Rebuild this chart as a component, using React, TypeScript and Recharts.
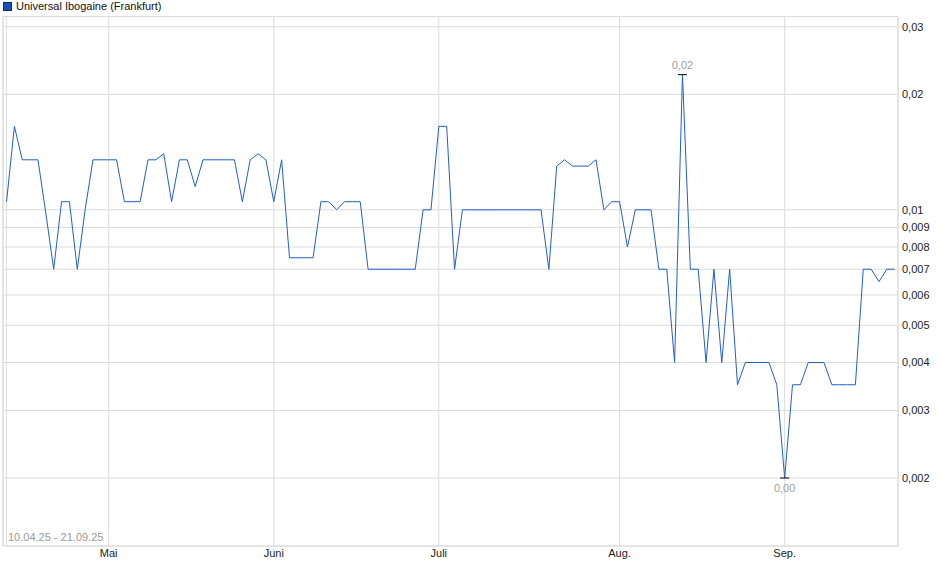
import React from 'react';
import {
    LineChart,
    Line,
    XAxis,
    YAxis,
    CartesianGrid,
    ReferenceArea,
    Legend,
} from 'recharts';

const seriesName = 'Universal Ibogaine (Frankfurt)';
const dateRange = '10.04.25 - 21.09.25';

// one close per Frankfurt trading day, 10.04.25 .. 19.09.25
const prices = [
    0.0105, 0.0165, 0.0135, 0.0135, 0.0135, 0.0098, 0.007, 0.0105, 0.0105, 0.007,
    0.01, 0.0135, 0.0135, 0.0135, 0.0135, 0.0105, 0.0105, 0.0105, 0.0135, 0.0135,
    0.014, 0.0105, 0.0135, 0.0135, 0.0115, 0.0135, 0.0135, 0.0135, 0.0135, 0.0135,
    0.0105, 0.0135, 0.014, 0.0135, 0.0105, 0.0135, 0.0075, 0.0075, 0.0075, 0.0075,
    0.0105, 0.0105, 0.01, 0.0105, 0.0105, 0.0105, 0.007, 0.007, 0.007, 0.007,
    0.007, 0.007, 0.007, 0.01, 0.01, 0.0165, 0.0165, 0.007, 0.01, 0.01,
    0.01, 0.01, 0.01, 0.01, 0.01, 0.01, 0.01, 0.01, 0.01, 0.007,
    0.013, 0.0135, 0.013, 0.013, 0.013, 0.0135, 0.01, 0.0105, 0.0105, 0.008,
    0.01, 0.01, 0.01, 0.007, 0.007, 0.004, 0.0225, 0.007, 0.007, 0.004,
    0.007, 0.004, 0.007, 0.0035, 0.004, 0.004, 0.004, 0.004, 0.0035, 0.002,
    0.0035, 0.0035, 0.004, 0.004, 0.004, 0.0035, 0.0035, 0.0035, 0.0035, 0.007,
    0.007, 0.0065, 0.007, 0.007,
];

// trading-day index of the first session of each month (0 = start of range)
const monthTicks = [0, 13, 34, 55, 78, 99];
const monthLabels = ['', 'Mai', 'Juni', 'Juli', 'Aug.', 'Sep.'];

const priceTicks = [0.002, 0.003, 0.004, 0.005, 0.006, 0.007, 0.008, 0.009, 0.01, 0.02, 0.03];

const xDomain: [number, number] = [-0.45, 113.42];
const yDomain: [number, number] = [0.00133, 0.0319];

const data = prices.map((price, i) => ({ i, price }));

const maxIdx = prices.indexOf(Math.max(...prices));
const minIdx = prices.indexOf(Math.min(...prices));

const FONT = 'Arial, "Liberation Sans", sans-serif';
const LINE_COLOR = '#1f5fcc';
const GRID_COLOR = '#dcdcdc';

const fmtTick = (v: number) => String(v).replace('.', ',');
const fmt2 = (v: number) => v.toFixed(2).replace('.', ',');

// marks the highest and lowest close with a small bar and value
const ExtremeDot = (props: any) => {
    const { cx, cy, index, payload } = props;
    if (index !== maxIdx && index !== minIdx) return <g key={`d${index}`} />;
    const isMax = index === maxIdx;
    return (
        <g key={`d${index}`}>
            <line x1={cx - 4.5} x2={cx + 4.5} y1={cy} y2={cy} stroke="#000" strokeWidth={1} />
            <text
                x={cx}
                y={isMax ? cy - 5.5 : cy + 13.5}
                textAnchor="middle"
                fill="#a0a0a0"
                fontSize={11}
            >
                {fmt2(payload.price)}
            </text>
        </g>
    );
};

const LegendContent = () => (
    <div style={{ display: 'flex', alignItems: 'center', fontSize: 11, color: '#111', height: 16 }}>
        <span
            style={{
                display: 'inline-block',
                width: 7,
                height: 7,
                background: '#1a4fb8',
                border: '1px solid #0b2a66',
                marginLeft: 3,
                marginRight: 4,
                marginTop: -4,
            }}
        />
        <span style={{ marginTop: -4 }}>{seriesName}</span>
    </div>
);

export default function App() {
    return (
        <div style={{ position: 'absolute', left: 0, top: 0, fontFamily: FONT, background: '#fff' }}>
            <LineChart width={940} height={579} data={data} margin={{ top: 0.5, right: 0, bottom: 0, left: 3 }}>
                <Legend
                    verticalAlign="top"
                    align="left"
                    content={<LegendContent />}
                    wrapperStyle={{ top: 0, left: 0, height: 16, width: 300, margin: 0, padding: 0 }}
                />
                <CartesianGrid stroke={GRID_COLOR} strokeWidth={1} />
                <ReferenceArea
                    x1={xDomain[0]}
                    x2={xDomain[1]}
                    y1={yDomain[0]}
                    y2={yDomain[1]}
                    fill="none"
                    stroke={GRID_COLOR}
                    strokeWidth={1}
                    ifOverflow="visible"
                    label={{
                        value: dateRange,
                        position: 'insideBottomLeft',
                        offset: 5,
                        fill: '#9a9a9a',
                        fontSize: 11,
                    }}
                />
                <XAxis
                    dataKey="i"
                    type="number"
                    domain={xDomain}
                    ticks={monthTicks}
                    tickFormatter={(v: number) => monthLabels[monthTicks.indexOf(v)] ?? ''}
                    allowDataOverflow
                    axisLine={false}
                    tickLine={false}
                    tickSize={0}
                    tickMargin={3}
                    height={33}
                    interval={0}
                    tick={{ fill: '#222', fontSize: 11 }}
                />
                <YAxis
                    orientation="right"
                    scale="log"
                    domain={yDomain}
                    ticks={priceTicks}
                    tickFormatter={fmtTick}
                    allowDataOverflow
                    axisLine={false}
                    tickLine={false}
                    tickSize={0}
                    tickMargin={4}
                    width={42}
                    interval={0}
                    tick={{ fill: '#222', fontSize: 11, textAnchor: 'start' }}
                />
                <Line
                    type="linear"
                    dataKey="price"
                    stroke={LINE_COLOR}
                    strokeWidth={1}
                    dot={(p: any) => <ExtremeDot {...p} />}
                    activeDot={false}
                    isAnimationActive={false}
                />
            </LineChart>
        </div>
    );
}
